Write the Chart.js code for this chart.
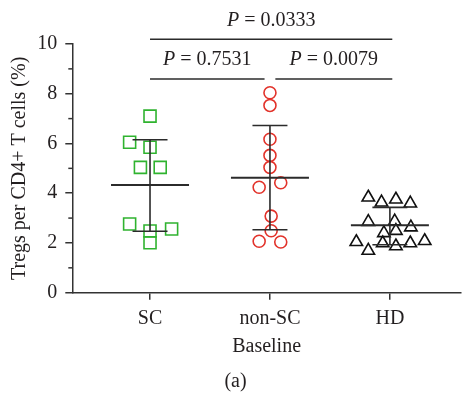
<!DOCTYPE html>
<html><head><meta charset="utf-8">
<script src="https://cdn.jsdelivr.net/npm/chart.js@4"></script>
<style>html,body{margin:0;padding:0;background:#fff}</style>
</head><body>
<canvas id="c" width="471" height="394"></canvas>
<script>
// ---- data ----
const categories = ['SC', 'non-SC', 'HD'];
const categoryPos = [1, 2, 3];
const yMajorTicks = [0, 2, 4, 6, 8, 10];
const yMinorTicks = [1, 3, 5, 7, 9];

const scX = [1.00, 0.83, 1.00, 0.92, 1.085, 0.83, 1.00, 1.18, 1.00];
const scY = [7.10, 6.05, 5.85, 5.04, 5.04, 2.76, 2.48, 2.56, 2.01];

const nonScX = [2.00, 2.00, 2.00, 2.00, 2.00, 2.09, 1.91, 2.01, 2.01, 1.91, 2.09];
const nonScY = [8.04, 7.53, 6.17, 5.52, 5.04, 4.42, 4.24, 3.08, 2.49, 2.07, 2.04];

const hdX = [2.82, 2.93, 3.05, 3.17, 2.82, 3.04, 3.175, 2.95, 3.05, 2.72, 2.94, 3.05, 3.17, 3.29, 2.82];
const hdY = [3.83, 3.63, 3.75, 3.59, 2.85, 2.87, 2.63, 2.40, 2.49, 2.04, 1.99, 1.87, 1.99, 2.08, 1.69];

const groupMean = [4.33, 4.62, 2.71];
const groupSdHigh = [6.15, 6.72, 3.43];
const groupSdLow = [2.47, 2.53, 1.93];

const compFrom = [1.0, 2.045, 1.0];
const compTo = [1.955, 3.02, 3.02];
const compLevel = [8.59, 8.59, 10.19];
const compTextLevel = [9.36, 9.36, 10.95];
const compP = ['0.7531', '0.0079', '0.0333'];

// ---- styles ----
const FONT = "'Liberation Serif', 'Times New Roman', serif";
const TXT = '#231f20';
const AX = '#333333';
const font = { family: FONT, size: 20 };

const pts = (xs, ys) => xs.map((x, i) => ({ x: x, y: ys[i] }));

const errorBars = {
  id: 'errorBars',
  afterDatasetsDraw(chart) {
    const { ctx, scales: { x, y } } = chart;
    ctx.save();
    ctx.strokeStyle = '#2b2b2b';
    categoryPos.forEach((c, i) => {
      const px = x.getPixelForValue(c);
      const pm = y.getPixelForValue(groupMean[i]);
      const ph = y.getPixelForValue(groupSdHigh[i]);
      const pl = y.getPixelForValue(groupSdLow[i]);
      ctx.lineWidth = 2;
      ctx.beginPath(); ctx.moveTo(px - 39, pm); ctx.lineTo(px + 39, pm); ctx.stroke();
      ctx.lineWidth = 1.6;
      ctx.beginPath();
      ctx.moveTo(px, ph); ctx.lineTo(px, pl);
      ctx.moveTo(px - 17.5, ph); ctx.lineTo(px + 17.5, ph);
      ctx.moveTo(px - 17.5, pl); ctx.lineTo(px + 17.5, pl);
      ctx.stroke();
    });
    ctx.restore();
  },
  afterDraw(chart) {
    const { ctx, scales: { x, y } } = chart;
    ctx.save();
    // minor y ticks
    ctx.strokeStyle = AX; ctx.lineWidth = 1.5;
    yMinorTicks.forEach(v => {
      const py = y.getPixelForValue(v);
      ctx.beginPath(); ctx.moveTo(y.right - 4, py); ctx.lineTo(y.right, py); ctx.stroke();
    });
    // comparison brackets
    ctx.strokeStyle = '#2b2b2b'; ctx.lineWidth = 1.6;
    ctx.fillStyle = TXT; ctx.textBaseline = 'middle';
    compP.forEach((p, i) => {
      const x0 = x.getPixelForValue(compFrom[i]);
      const x1 = x.getPixelForValue(compTo[i]);
      const py = y.getPixelForValue(compLevel[i]);
      ctx.beginPath(); ctx.moveTo(x0, py); ctx.lineTo(x1, py); ctx.stroke();
      const ty = y.getPixelForValue(compTextLevel[i]);
      const cx = (x0 + x1) / 2;
      ctx.font = 'italic 20px ' + FONT;
      const w1 = ctx.measureText('P').width;
      ctx.font = '20px ' + FONT;
      const rest = ' = ' + p;
      const w2 = ctx.measureText(rest).width;
      let sx = cx - (w1 + w2) / 2;
      ctx.textAlign = 'left';
      ctx.font = 'italic 20px ' + FONT;
      ctx.fillText('P', sx, ty);
      ctx.font = '20px ' + FONT;
      ctx.fillText(rest, sx + w1, ty);
    });
    ctx.restore();
  }
};

new Chart(document.getElementById('c'), {
  type: 'scatter',
  data: {
    datasets: [
      { label: 'SC', data: pts(scX, scY), pointStyle: 'rect', pointRadius: 8.5, pointHoverRadius: 8.5,
        borderColor: '#2fb32f', backgroundColor: 'rgba(0,0,0,0)', pointBorderWidth: 1.6 },
      { label: 'non-SC', data: pts(nonScX, nonScY), pointStyle: 'circle', pointRadius: 6, pointHoverRadius: 6,
        borderColor: '#e2332b', backgroundColor: 'rgba(0,0,0,0)', pointBorderWidth: 1.6 },
      { label: 'HD', data: pts(hdX, hdY), pointStyle: 'triangle', pointRadius: 7.2, pointHoverRadius: 7.2,
        borderColor: '#111111', backgroundColor: 'rgba(0,0,0,0)', pointBorderWidth: 1.6 }
    ]
  },
  options: {
    responsive: false,
    animation: false,
    events: [],
    layout: { padding: { top: 44, right: 0, left: 0, bottom: 0 } },
    plugins: {
      legend: { display: false },
      tooltip: { enabled: false },
      title: { display: true, text: '(a)', position: 'bottom', color: TXT, font: { family: FONT, size: 20, weight: 'normal' },
        padding: { top: 1, bottom: 0 } }
    },
    scales: {
      x: {
        type: 'linear', min: 0.352, max: 3.592,
        afterBuildTicks: s => { s.ticks = categoryPos.map(v => ({ value: v })); },
        afterFit: s => { s.height = 76.3; },
        ticks: { callback: v => categories[categoryPos.indexOf(v)], font: font, color: TXT, padding: 7,
          maxRotation: 0, autoSkip: false },
        grid: { drawOnChartArea: false, tickLength: 7, color: AX, lineWidth: 1.5 },
        border: { color: AX, width: 1.5 },
        title: { display: true, text: 'Baseline', font: font, color: TXT, padding: { top: 0, bottom: 10 } }
      },
      y: {
        min: 0, max: 10,
        afterBuildTicks: s => { s.ticks = yMajorTicks.map(v => ({ value: v })); },
        afterFit: s => { s.width = 72.3; },
        ticks: { font: font, color: TXT, padding: 8 },
        grid: { drawOnChartArea: false, tickLength: 7, color: AX, lineWidth: 1.5 },
        border: { color: AX, width: 1.5 },
        title: { display: true, text: 'Tregs per CD4+ T cells (%)', font: font, color: TXT, padding: { top: 8, bottom: 0 } }
      }
    }
  },
  plugins: [errorBars]
});
</script>
</body></html>
